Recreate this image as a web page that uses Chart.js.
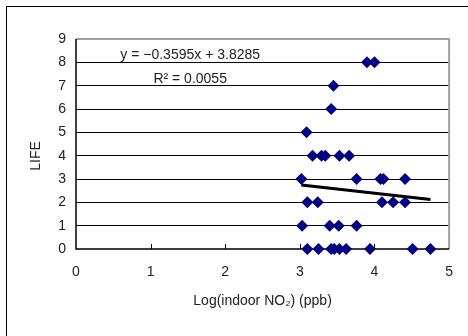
<!DOCTYPE html>
<html>
<head>
<meta charset="utf-8">
<script src="https://cdn.jsdelivr.net/npm/chart.js@4"></script>
<style>
  html, body { margin: 0; padding: 0; background: #fff; }
  #wrap { width: 468px; height: 336px; }
</style>
</head>
<body>
<div id="wrap"><canvas id="chart" width="468" height="336"></canvas></div>
<script>
// =============================
// Data
// =============================
const noxLog = [
  3.10, 3.25, 3.42, 3.46, 3.53, 3.62, 3.94, 4.51, 4.75,
  3.03, 3.40, 3.52, 3.76,
  3.10, 3.24, 4.10, 4.25, 4.41,
  3.02, 3.76, 4.08, 4.12, 4.41,
  3.17, 3.29, 3.34, 3.53, 3.66,
  3.09,
  3.42,
  3.45,
  3.90, 4.00
];
const lifeScore = [
  0, 0, 0, 0, 0, 0, 0, 0, 0,
  1, 1, 1, 1,
  2, 2, 2, 2, 2,
  3, 3, 3, 3, 3,
  4, 4, 4, 4, 4,
  5,
  6,
  7,
  8, 8
];
const xTicks = [0, 1, 2, 3, 4, 5];
const yTicks = [0, 1, 2, 3, 4, 5, 6, 7, 8, 9];

// trend line y = slope * x + intercept
const slope = -0.3595;
const intercept = 3.8285;
const rSquared = 0.0055;

const FONT = "'Liberation Sans', Arial, sans-serif";
const FONT_SIZE = 14;

const points = noxLog.map((x, i) => ({ x: x, y: lifeScore[i] }));
const xMin = Math.min(...noxLog), xMax = Math.max(...noxLog);
const trend = [
  { x: xMin, y: slope * xMin + intercept },
  { x: xMax, y: slope * xMax + intercept }
];

// =============================
// Frame, axes, titles, equation
// =============================
const framePlugin = {
  id: "frame",
  beforeDatasetsDraw(chart) {
    const { ctx, chartArea: a, scales } = chart;
    ctx.save();
    // outer border
    ctx.strokeStyle = "#000";
    ctx.lineWidth = 1;
    ctx.strokeRect(6.5, 6.5, 480, 360);

    // top + right edges of plot area (grey)
    ctx.strokeStyle = "#a0a0a0";
    ctx.lineWidth = 2;
    ctx.beginPath();
    ctx.moveTo(a.left, a.top);
    ctx.lineTo(a.right, a.top);
    ctx.lineTo(a.right, a.bottom);
    ctx.stroke();

    // left + bottom axes
    ctx.strokeStyle = "#000";
    ctx.lineWidth = 1.5;
    ctx.beginPath();
    ctx.moveTo(a.left, a.top);
    ctx.lineTo(a.left, a.bottom);
    ctx.lineTo(a.right, a.bottom);
    ctx.stroke();

    // inward tick marks on x axis
    ctx.lineWidth = 1;
    ctx.beginPath();
    xTicks.slice(1, -1).forEach(v => {
      const px = Math.round(scales.x.getPixelForValue(v)) + 0.5;
      ctx.moveTo(px, a.bottom);
      ctx.lineTo(px, a.bottom - 5);
    });
    ctx.stroke();
    ctx.restore();
  },
  afterDraw(chart) {
    const { ctx, chartArea: a, scales } = chart;
    ctx.save();
    ctx.fillStyle = "#222";
    ctx.font = FONT_SIZE + "px " + FONT;
    ctx.textAlign = "center";
    ctx.textBaseline = "middle";

    // y title
    ctx.save();
    ctx.translate(36, 156);
    ctx.rotate(-Math.PI / 2);
    ctx.fillText("LIFE", 0, 0);
    ctx.restore();

    // x title
    ctx.fillText("Log(indoor NO\u2082) (ppb)", (a.left + a.right) / 2, 301);

    // regression equation
    const cx = scales.x.getPixelForValue(1.53);
    ctx.textBaseline = "alphabetic";
    ctx.fillText("y = \u22120.3595x + 3.8285", cx, scales.y.getPixelForValue(8) - 3);
    ctx.fillText("R\u00b2 = " + rSquared.toFixed(4), cx, scales.y.getPixelForValue(7) - 3);
    ctx.restore();
  }
};

// =============================
// Chart
// =============================
new Chart(document.getElementById("chart"), {
  type: "scatter",
  data: {
    datasets: [
      {
        data: points,
        pointStyle: "rectRot",
        pointRadius: 6,
        pointHoverRadius: 6,
        backgroundColor: "#000080",
        borderColor: "#000080",
        borderWidth: 0,
        clip: false,
        order: 1
      },
      {
        type: "line",
        data: trend,
        borderColor: "#000",
        borderWidth: 3,
        pointRadius: 0,
        fill: false,
        clip: false,
        order: 2
      }
    ]
  },
  options: {
    responsive: false,
    animation: false,
    events: [],
    layout: { padding: { top: 39, right: 18, left: 0, bottom: 0 } },
    plugins: { legend: { display: false }, tooltip: { enabled: false } },
    scales: {
      x: {
        type: "linear",
        min: xTicks[0],
        max: xTicks[xTicks.length - 1],
        afterBuildTicks: s => { s.ticks = xTicks.map(v => ({ value: v })); },
        afterFit: s => { s.height = 87; },
        ticks: { color: "#222", font: { family: FONT, size: FONT_SIZE }, padding: 15 },
        grid: { display: false, drawTicks: false },
        border: { display: false }
      },
      y: {
        min: yTicks[0],
        max: yTicks[yTicks.length - 1],
        afterBuildTicks: s => { s.ticks = yTicks.map(v => ({ value: v })); },
        afterFit: s => { s.width = 76; },
        ticks: { color: "#222", font: { family: FONT, size: FONT_SIZE }, padding: 10 },
        grid: {
          drawTicks: false,
          lineWidth: 1,
          color: c => (c.tick && (c.tick.value === 0 || c.tick.value === 9)) ? "rgba(0,0,0,0)" : "#000"
        },
        border: { display: false }
      }
    }
  },
  plugins: [framePlugin]
});
</script>
</body>
</html>
